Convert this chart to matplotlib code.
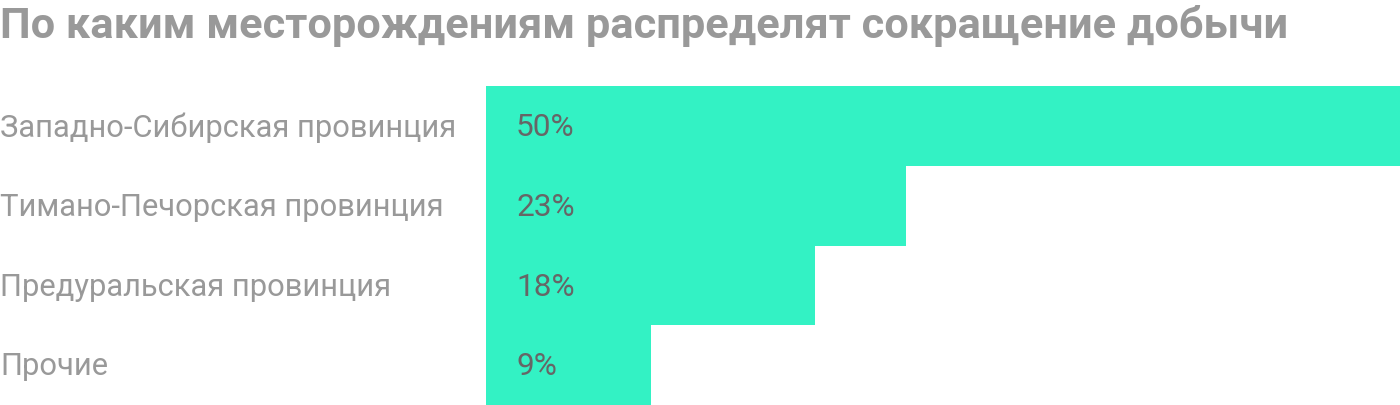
import matplotlib.pyplot as plt
from matplotlib import transforms

# Data
categories = ["Западно-Сибирская провинция", "Тимано-Печорская провинция",
              "Предуральская провинция", "Прочие"]
shares = [50, 23, 18, 9]
value_labels = ["50%", "23%", "18%", "9%"]
title = "По каким месторождениям распределят сокращение добычи"

BAR_COLOR = "#33F2C4"
TEXT_GRAY = "#999999"
VALUE_GRAY = "#666666"

plt.rcParams["font.family"] = ["Roboto", "DejaVu Sans"]

W, H = 1400, 406
fig = plt.figure(figsize=(W / 100, H / 100), dpi=100)
ax = fig.add_axes([486 / W, 0, 914 / W, 319 / H])

y = range(len(categories))
ax.barh(y, shares, height=1.0, color=BAR_COLOR, linewidth=0)
ax.set_xlim(0, 50)
ax.set_ylim(len(categories) - 0.5, -0.5)
ax.axis("off")

# category labels at the figure's left edge, values inside bars
label_tr = transforms.blended_transform_factory(fig.transFigure, ax.transData)
for i, (cat, val) in enumerate(zip(categories, value_labels)):
    fig.text(0, i + 0.01, cat, transform=label_tr, ha="left", va="center",
             fontsize=22.2, color=TEXT_GRAY)
    ax.annotate(val, (0, i + 0.01), xytext=(30, 0), textcoords="offset pixels",
                ha="left", va="center", fontsize=22.8, color=VALUE_GRAY)

fig.text(0, 1 - 26 / H, title, ha="left", va="center",
         fontsize=31.2, fontweight="bold", color=TEXT_GRAY)

fig.savefig("out.png", dpi=100)
